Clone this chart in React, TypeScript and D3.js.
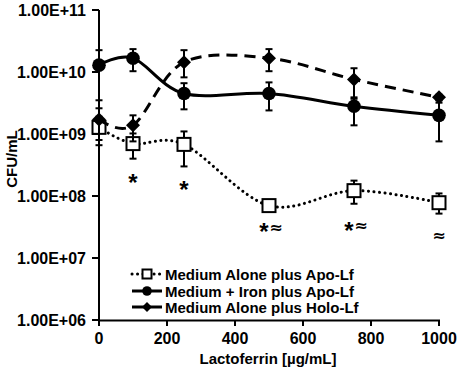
import React from "react";
import * as d3 from "d3";

// lactoferrin concentration (µg/mL)
const doses = [0, 100, 250, 500, 750, 1000];

// Medium Alone plus Apo-Lf
const apoMean = [1.28e9, 7.0e8, 6.8e8, 7.0e7, 1.22e8, 7.8e7];
const apoLo = [6.6e8, 4.0e8, 3.0e8, 6.0e7, 7.5e7, 5.2e7];
const apoHi = [1.9e9, 1.02e9, 1.1e9, 8.0e7, 1.77e8, 1.1e8];

// Medium + Iron plus Apo-Lf
const ironMean = [1.29e10, 1.67e10, 4.5e9, 4.5e9, 2.8e9, 2.0e9];
const ironLo = [3.5e9, 1.03e10, 2.5e9, 2.4e9, 1.38e9, 7.6e8];
const ironHi = [2.25e10, 2.34e10, 6.6e9, 6.8e9, 3.9e9, 3.2e9];

// Medium Alone plus Holo-Lf
const holoMean = [1.72e9, 1.38e9, 1.44e10, 1.67e10, 7.6e9, 3.9e9];
const holoLo = [8.0e8, 7.6e8, 8.2e9, 1.03e10, 3.7e9, 3.5e9];
const holoHi = [2.6e9, 2.0e9, 2.25e10, 2.34e10, 1.15e10, 4.3e9];

const yTickVals = [1e6, 1e7, 1e8, 1e9, 1e10, 1e11];
const yTickLabels = ["1.00E+06", "1.00E+07", "1.00E+08", "1.00E+09", "1.00E+10", "1.00E+11"];
const xTickVals = [0, 200, 400, 600, 800, 1000];

// significance marks under the Apo-Lf series
const markDose = [100, 250, 500, 750, 1000];
const markLevel = [2.1e8, 1.6e8, 3.3e7, 3.5e7, 2.4e7];
const markStar = [true, true, true, true, false];
const markApprox = [false, false, true, true, true];

const legendLabels = [
  "Medium Alone plus Apo-Lf",
  "Medium + Iron plus Apo-Lf",
  "Medium Alone plus Holo-Lf",
];

const font = "'Liberation Sans', Arial, sans-serif";

export default function App() {
  const x = d3.scaleLinear().domain([0, 1000]).range([99, 439]);
  const y = d3.scaleLog().domain([1e6, 1e11]).range([320, 10]);

  const line = d3
    .line<number>()
    .x((d, i) => x(doses[i]))
    .y((d) => y(d))
    .curve(d3.curveCardinal.tension(0));

  const series = [
    { mean: apoMean, lo: apoLo, hi: apoHi, dash: "0.1,5.4", kind: "square" },
    { mean: ironMean, lo: ironLo, hi: ironHi, dash: "none", kind: "circle" },
    { mean: holoMean, lo: holoLo, hi: holoHi, dash: "11,7", kind: "diamond" },
  ];

  const marker = (kind: string, cx: number, cy: number, size: number, key: any) => {
    const h = size / 2;
    if (kind === "square")
      return <rect key={key} x={cx - h} y={cy - h} width={size} height={size} fill="#fff" stroke="#000" strokeWidth={2} />;
    if (kind === "circle") return <circle key={key} cx={cx} cy={cy} r={h + 0.3} fill="#000" />;
    const s = h + 0.5;
    return <path key={key} d={`M${cx},${cy - s}L${cx + s},${cy}L${cx},${cy + s}L${cx - s},${cy}Z`} fill="#000" />;
  };

  const legendY = [274, 291, 307];

  return (
    <svg width={459} height={370} style={{ position: "absolute", left: 0, top: 0, background: "#fff" }} fontFamily={font} fontWeight="bold">
      {/* axes */}
      <line x1={99} x2={99} y1={10} y2={321} stroke="#000" strokeWidth={2} />
      <line x1={98} x2={440} y1={320.5} y2={320.5} stroke="#000" strokeWidth={2} />
      {yTickVals.map((v, i) => (
        <g key={v}>
          <line x1={92} x2={99} y1={y(v)} y2={y(v)} stroke="#000" strokeWidth={2} />
          <text x={86} y={y(v)} textAnchor="end" dominantBaseline="central" fontSize={16}>
            {yTickLabels[i]}
          </text>
        </g>
      ))}
      {xTickVals.map((v) => (
        <g key={v}>
          <line x1={x(v)} x2={x(v)} y1={320} y2={326} stroke="#000" strokeWidth={2} />
          <text x={x(v)} y={338} textAnchor="middle" dominantBaseline="central" fontSize={16}>
            {v}
          </text>
        </g>
      ))}
      <text x={268} y={358} textAnchor="middle" dominantBaseline="central" fontSize={15}>
        Lactoferrin [µg/mL]
      </text>
      <text transform="translate(11,159) rotate(-90)" textAnchor="middle" dominantBaseline="central" fontSize={15}>
        CFU/mL
      </text>

      {/* series */}
      {series.map((s, si) => (
        <g key={si}>
          <path
            d={line(s.mean) || ""}
            fill="none"
            stroke="#000"
            strokeWidth={3}
            strokeDasharray={s.dash}
            strokeLinecap={s.kind === "square" ? "round" : "butt"}
          />
          {s.mean.map((m, i) => {
            const cx = x(doses[i]);
            return (
              <g key={i} stroke="#000" strokeWidth={2}>
                <line x1={cx} x2={cx} y1={y(s.lo[i])} y2={y(s.hi[i])} />
                <line x1={cx - 3.5} x2={cx + 3.5} y1={y(s.lo[i])} y2={y(s.lo[i])} />
                <line x1={cx - 3.5} x2={cx + 3.5} y1={y(s.hi[i])} y2={y(s.hi[i])} />
              </g>
            );
          })}
          {s.mean.map((m, i) => marker(s.kind, x(doses[i]), y(m), 13, i))}
        </g>
      ))}

      {/* significance marks */}
      {markDose.map((d, i) => {
        const both = markStar[i] && markApprox[i];
        const cx = x(d);
        const cy = y(markLevel[i]);
        return (
          <g key={i}>
            {markStar[i] && (
              <text x={both ? cx - 5 : cx} y={cy + 6} textAnchor="middle" dominantBaseline="central" fontSize={24}>
                *
              </text>
            )}
            {markApprox[i] && (
              <text
                x={both ? cx + 7 : cx}
                y={cy + 1.5}
                textAnchor="middle"
                dominantBaseline="central"
                fontSize={16}
                fontFamily="'DejaVu Sans', sans-serif"
              >
                ≈
              </text>
            )}
          </g>
        );
      })}

      {/* legend */}
      {series.map((s, i) => (
        <g key={i}>
          <line
            x1={132}
            x2={162}
            y1={legendY[i]}
            y2={legendY[i]}
            stroke="#000"
            strokeWidth={3}
            strokeDasharray={s.kind === "square" ? "0.1,5.4" : "none"}
            strokeLinecap={s.kind === "square" ? "round" : "butt"}
          />
          {marker(s.kind, 147, legendY[i], 9, "m")}
          <text x={165} y={legendY[i]} dominantBaseline="central" fontSize={15}>
            {legendLabels[i]}
          </text>
        </g>
      ))}
    </svg>
  );
}
